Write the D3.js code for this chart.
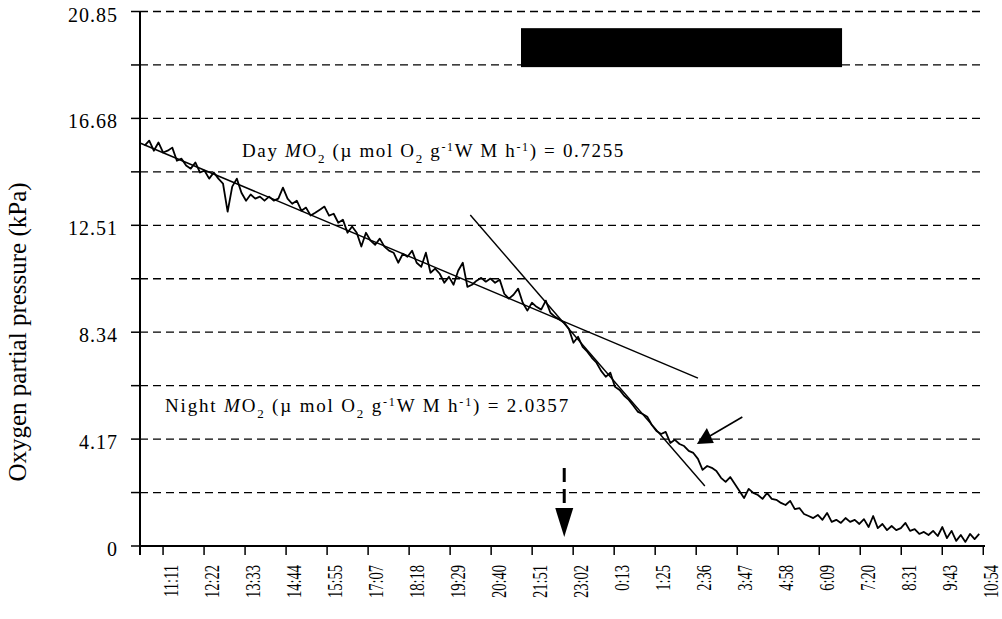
<!DOCTYPE html>
<html>
<head>
<meta charset="utf-8">
<script src="https://cdn.jsdelivr.net/npm/d3@7"></script>
<style>
  body { margin: 0; background: #fff; }
  svg { display: block; font-family: "Liberation Serif", "Times New Roman", serif; }
  .grid line { stroke: #000; stroke-width: 1.3; stroke-dasharray: 8,5; }
  .axis-line { stroke: #000; stroke-width: 2; }
  .tick-mark { stroke: #000; stroke-width: 1.5; }
</style>
</head>
<body>
<div id="chart"></div>
<script>
// recording: minutes after 11:11, one reading every 8 min
var sampleStartMin = -32;
var sampleStepMin = 8;
var oxygenKPa = [
  15.62, 15.81, 15.42, 15.74, 15.35, 15.42, 15.54, 15.03, 15.11, 14.84,
  14.72, 14.96, 14.57, 14.64, 14.33, 14.57, 14.33, 14.14, 13.04, 14.02,
  14.33, 13.78, 13.47, 13.71, 13.55, 13.63, 13.47, 13.63, 13.47, 13.55,
  13.98, 13.55, 13.35, 13.47, 13.08, 13.20, 12.89, 13.00, 13.12, 13.24,
  12.89, 12.96, 12.61, 12.73, 12.22, 12.46, 12.22, 11.68, 12.22, 11.91,
  11.75, 11.99, 11.68, 11.52, 11.44, 11.05, 11.40, 11.28, 11.52, 11.05,
  10.89, 11.44, 10.66, 10.82, 10.62, 10.27, 10.50, 10.19, 10.74, 11.05,
  10.11, 10.19, 10.35, 10.46, 10.31, 10.43, 10.27, 10.39, 9.84, 9.65,
  9.80, 10.04, 9.49, 9.18, 9.49, 9.33, 9.22, 9.57, 9.10, 8.94,
  8.83, 8.71, 8.47, 7.93, 8.16, 7.77, 7.58, 7.34, 7.15, 6.83,
  6.60, 6.76, 6.21, 6.09, 5.86, 5.70, 5.47, 5.23, 5.15, 5.04,
  4.72, 4.49, 4.37, 4.45, 4.02, 4.14, 3.98, 3.90, 3.71, 3.63,
  3.40, 2.97, 3.12, 3.05, 2.93, 2.66, 2.50, 2.69, 2.42, 2.15,
  1.87, 2.23, 2.07, 1.99, 1.84, 2.07, 1.84, 1.80, 1.68, 1.60,
  1.76, 1.44, 1.48, 1.25, 1.17, 1.09, 1.21, 1.02, 1.29, 0.94,
  1.02, 0.90, 1.09, 0.94, 1.02, 0.86, 1.05, 0.74, 1.17, 0.70,
  0.86, 0.62, 0.78, 0.62, 0.70, 0.90, 0.59, 0.66, 0.47, 0.55,
  0.43, 0.59, 0.39, 0.74, 0.31, 0.59, 0.20, 0.43, 0.16, 0.47,
  0.27, 0.47
];

var timeLabels = ["11:11", "12:22", "13:33", "14:44", "15:55", "17:07", "18:18",
  "19:29", "20:40", "21:51", "23:02", "0:13", "1:25", "2:36", "3:47", "4:58",
  "6:09", "7:20", "8:31", "9:43", "10:54"];
var tickStepMin = 71.15;

var yGrid = [0, 2.085, 4.17, 6.255, 8.34, 10.425, 12.51, 14.595, 16.68, 18.765, 20.85];
var yLabels = ["0", "", "4.17", "", "8.34", "", "12.51", "", "16.68", "", "20.85"];

// regression lines [minutes, kPa]
var dayFit = [[-40, 15.72], [928, 6.55]];
var nightFit = [[533, 12.91], [940, 2.34]];
var dayRate = "0.7255";
var nightRate = "2.0357";

// dark period bar
var darkMinutes = [621, 1178];
var darkKPa = [18.68, 20.2];

// arrows
var dashedArrow = { t: 696, from: 3.04, to: 0.35 };
var solidArrow = { tail: [1005, 5.03], head: [940, 3.98] };

var width = 1002, height = 619;
var svg = d3.select("#chart").append("svg")
    .attr("width", width)
    .attr("height", height);

var x = d3.scaleLinear().domain([-40, 1426]).range([140, 985]);
var y = d3.scaleLinear().domain([0, 20.85]).range([546, 11.5]);

// grid
svg.append("g").classed("grid", true)
    .selectAll("line")
    .data(yGrid.slice(1))
    .enter()
    .append("line")
        .attr("x1", x(-40))
        .attr("x2", x(1426))
        .attr("y1", function(d) { return y(d); })
        .attr("y2", function(d) { return y(d); });

// y ticks + labels
svg.append("g")
    .selectAll("line")
    .data(yGrid)
    .enter()
    .append("line")
        .classed("tick-mark", true)
        .attr("x1", x(-40) - 9)
        .attr("x2", x(-40))
        .attr("y1", function(d) { return y(d); })
        .attr("y2", function(d) { return y(d); });

svg.append("g")
    .selectAll("text")
    .data(yGrid)
    .enter()
    .append("text")
        .attr("x", 118)
        .attr("y", function(d) { return y(d) + 10; })
        .attr("text-anchor", "end")
        .style("font-size", "20px")
        .style("letter-spacing", "1px")
        .text(function(d, i) { return yLabels[i]; });

// x ticks + labels
var tickMins = timeLabels.map(function(d, i) { return i * tickStepMin; });

svg.append("g")
    .selectAll("line")
    .data(tickMins)
    .enter()
    .append("line")
        .classed("tick-mark", true)
        .attr("x1", function(d) { return x(d); })
        .attr("x2", function(d) { return x(d); })
        .attr("y1", y(0))
        .attr("y2", y(0) + 9);

svg.append("g")
    .selectAll("text")
    .data(tickMins)
    .enter()
    .append("text")
        .attr("text-anchor", "end")
        .attr("transform", function(d) {
            return "translate(" + (x(d) + 15) + "," + (y(0) + 19) + ") rotate(-90) scale(0.66,1)";
        })
        .style("font-size", "22px")
        .text(function(d, i) { return timeLabels[i]; });

// axes lines
svg.append("line").classed("axis-line", true)
    .attr("x1", x(-40)).attr("x2", x(-40))
    .attr("y1", y(20.85)).attr("y2", y(0) + 9);
svg.append("line").classed("axis-line", true)
    .attr("x1", x(-40)).attr("x2", x(1426))
    .attr("y1", y(0)).attr("y2", y(0));

// y title
svg.append("text")
    .attr("text-anchor", "middle")
    .attr("transform", "translate(26," + 332 + ") rotate(-90)")
    .style("font-size", "25px")
    .text("Oxygen partial pressure (kPa)");

// dark bar
svg.append("rect")
    .attr("x", x(darkMinutes[0]))
    .attr("y", y(darkKPa[1]))
    .attr("width", x(darkMinutes[1]) - x(darkMinutes[0]))
    .attr("height", y(darkKPa[0]) - y(darkKPa[1]))
    .style("fill", "#000");

// trace
var trace = oxygenKPa.map(function(v, i) { return [sampleStartMin + i * sampleStepMin, v]; });
var line = d3.line()
    .x(function(d) { return x(d[0]); })
    .y(function(d) { return y(d[1]); });

svg.append("path")
    .datum(trace)
    .attr("d", line)
    .style("fill", "none")
    .style("stroke", "#000")
    .style("stroke-width", 1.8)
    .style("stroke-linejoin", "round");

[dayFit, nightFit].forEach(function(fit) {
    svg.append("path")
        .datum(fit)
        .attr("d", line)
        .style("fill", "none")
        .style("stroke", "#000")
        .style("stroke-width", 1.4);
});

// rate annotations, spread to fill the span they take in the figure
function addRate(x0, x1, yPos, label, rate) {
    var t = svg.append("text")
        .attr("x", x0)
        .attr("y", yPos)
        .style("font-size", "19px");
    t.append("tspan").text(label + " ");
    t.append("tspan").style("font-style", "italic").text("M");
    t.append("tspan").text("O");
    t.append("tspan").attr("dy", 6).style("font-size", "13px").text("2");
    t.append("tspan").attr("dy", -6).text(" (\u00b5 mol O");
    t.append("tspan").attr("dy", 6).style("font-size", "13px").text("2");
    t.append("tspan").attr("dy", -6).text(" g");
    t.append("tspan").attr("dy", -6).style("font-size", "12px").text("-1");
    t.append("tspan").attr("dy", 6).text("W M h");
    t.append("tspan").attr("dy", -6).style("font-size", "12px").text("-1");
    t.append("tspan").attr("dy", 6).text(") = " + rate);
    var w = t.node().getComputedTextLength();
    var n = t.text().length;
    t.style("letter-spacing", ((x1 - x0 - w) / n) + "px");
    return t;
}
addRate(242, 625, 157, "Day", dayRate);
addRate(165, 570, 412, "Night", nightRate);

// dashed arrow
var ax = x(dashedArrow.t);
svg.append("line")
    .attr("x1", ax).attr("x2", ax)
    .attr("y1", y(dashedArrow.from)).attr("y2", y(dashedArrow.to) - 26)
    .style("stroke", "#000")
    .style("stroke-width", 3)
    .style("stroke-dasharray", "14,7");
svg.append("path")
    .attr("d", "M" + (ax - 9) + "," + (y(dashedArrow.to) - 29) +
        "L" + (ax + 9) + "," + (y(dashedArrow.to) - 29) +
        "L" + ax + "," + y(dashedArrow.to) + "Z")
    .style("fill", "#000");

// solid arrow
var hx = x(solidArrow.head[0]), hy = y(solidArrow.head[1]);
svg.append("line")
    .attr("x1", x(solidArrow.tail[0])).attr("y1", y(solidArrow.tail[1]))
    .attr("x2", hx + 5).attr("y2", hy - 8)
    .style("stroke", "#000")
    .style("stroke-width", 1.6);
svg.append("path")
    .attr("d", "M" + (hx - 8) + "," + hy + "L" + (hx + 2) + "," + (hy - 16) + "L" + (hx + 9) + "," + (hy - 1) + "Z")
    .style("fill", "#000");
</script>
</body>
</html>
